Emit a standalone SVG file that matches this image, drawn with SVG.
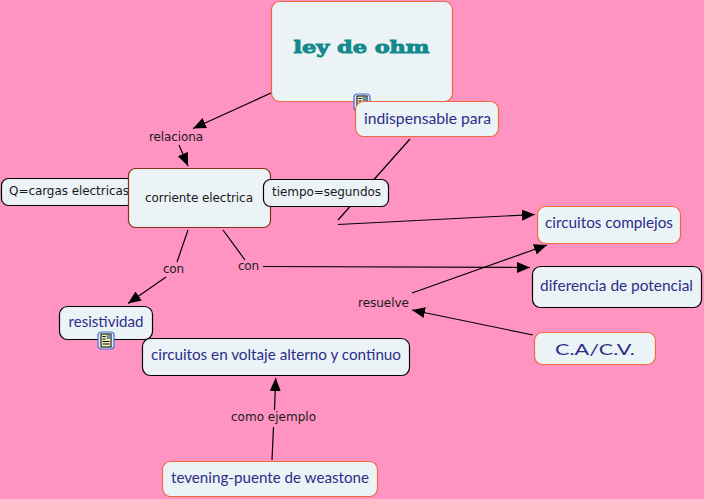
<svg xmlns="http://www.w3.org/2000/svg" width="704" height="499" viewBox="0 0 704 499">
<style>
.o{fill:#ecf3f6;stroke:#f0693c;stroke-width:1.2}
.k{fill:#ecf3f6;stroke:#000;stroke-width:1.2}
.v{font-family:"DejaVu Sans",sans-serif;font-size:12px;fill:#1a1a1a}
.h{font-family:"Lato","Open Sans",sans-serif;font-weight:400;font-size:15px;fill:#2a2e8a;text-anchor:middle}
.c line{stroke:#000;stroke-width:1.2}
.ic{fill:#f7f2b5;stroke:#000;stroke-width:1}
.fr{fill:#dbe7fb;stroke:#4a6fd0;stroke-width:1.200}
</style>
<defs>
<marker id="a" markerUnits="userSpaceOnUse" markerWidth="14" markerHeight="12" refX="13" refY="5.500" orient="auto"><path d="M0 0L13 5.500L0 11z" fill="#000"/></marker>
<g id="note"><rect class="fr" x="0.500" y="0.500" width="16" height="17" rx="3"/><rect class="ic" x="3.500" y="2.500" width="10" height="13"/><path d="M5 5h3M5 7.500h3M5 10h7M5 12.500h7" stroke="#000" stroke-width="1"/><rect x="9" y="3.500" width="4" height="4" fill="#6a8fb0"/></g>
</defs>
<rect width="704" height="499" fill="#ff94c3"/>
<g id="connectors" class="c">
<line x1="271" y1="93" x2="193" y2="128.500" marker-end="url(#a)"/>
<line x1="179" y1="145" x2="188" y2="166" marker-end="url(#a)"/>
<line x1="410" y1="139" x2="338" y2="220"/>
<line x1="338" y1="224.500" x2="535" y2="214.500" marker-end="url(#a)"/>
<line x1="188" y1="230" x2="177" y2="262"/>
<line x1="166" y1="277" x2="128" y2="303.500" marker-end="url(#a)"/>
<line x1="223" y1="230" x2="245" y2="260"/>
<line x1="263" y1="266.500" x2="530" y2="267.500" marker-end="url(#a)"/>
<line x1="412" y1="293" x2="547" y2="245" marker-end="url(#a)"/>
<line x1="533" y1="335" x2="412" y2="310" marker-end="url(#a)"/>
<line x1="272" y1="460" x2="273.500" y2="427"/>
<line x1="274.500" y1="410" x2="275.700" y2="378" marker-end="url(#a)"/>
</g>
<g id="n-ohm"><rect class="o" x="271.500" y="1.500" width="181" height="100" rx="8"/>
<text x="361.500" y="53" text-anchor="middle" textLength="136" lengthAdjust="spacingAndGlyphs" font-family="'DejaVu Serif',serif" font-weight="900" font-size="17" fill="#12898c" stroke="#12898c" stroke-width="0.900">ley de ohm</text></g>
<g id="n-icon1"><use href="#note" x="353.500" y="93.500"/></g>
<g id="n-indispensable"><rect class="o" x="355.500" y="101.500" width="143" height="35" rx="8"/><text class="h" x="427.500" y="124" textLength="127" lengthAdjust="spacingAndGlyphs">indispensable para</text></g>
<g id="n-relaciona"><text class="v" x="149" y="141" textLength="54">relaciona</text></g>
<g id="n-q"><rect class="k" x="1.500" y="178.500" width="132" height="27" rx="7"/><text class="v" x="9" y="195" textLength="120">Q=cargas electricas</text></g>
<g id="n-corriente"><rect x="128.500" y="168.500" width="142" height="59" rx="7" fill="#ecf3f6" stroke="#8b2d12" stroke-width="1.200"/><text class="v" x="145" y="202" textLength="108">corriente electrica</text></g>
<g id="n-tiempo"><rect class="k" x="263.500" y="179.500" width="125" height="27" rx="7"/><text class="v" x="272" y="196" textLength="109">tiempo=segundos</text></g>
<g id="n-con1"><text class="v" x="163" y="273" textLength="21">con</text></g>
<g id="n-con2"><text class="v" x="238" y="270" textLength="21">con</text></g>
<g id="n-complejos"><rect class="o" x="537.500" y="206.500" width="143" height="37" rx="8"/><text class="h" x="609" y="228" textLength="128" lengthAdjust="spacingAndGlyphs">circuitos complejos</text></g>
<g id="n-diferencia"><rect class="k" x="532.500" y="266.500" width="169" height="41" rx="8"/><text class="h" x="616.500" y="291" textLength="153" lengthAdjust="spacingAndGlyphs">diferencia de potencial</text></g>
<g id="n-resuelve"><text class="v" x="358" y="307" textLength="51">resuelve</text></g>
<g id="n-cacv"><rect class="o" x="534.500" y="332.500" width="121" height="32" rx="8"/><text class="h" x="595" y="355" font-size="21" textLength="80" lengthAdjust="spacingAndGlyphs">C.A/C.V.</text></g>
<g id="n-resistividad"><rect class="k" x="59.500" y="306.500" width="93" height="33" rx="8"/><text class="h" x="106" y="327" textLength="75" lengthAdjust="spacingAndGlyphs">resistividad</text></g>
<g id="n-circuitos"><rect class="k" x="142.500" y="338.500" width="267" height="37" rx="8"/><text class="h" x="276" y="360" textLength="250" lengthAdjust="spacingAndGlyphs">circuitos en voltaje alterno y continuo</text></g>
<g id="n-icon2"><use href="#note" x="97.500" y="331.500"/></g>
<g id="n-como"><text class="v" x="231" y="421" textLength="85">como ejemplo</text></g>
<g id="n-tevening"><rect class="o" x="162.500" y="461.500" width="215" height="35" rx="8"/><text class="h" x="270" y="483" textLength="198" lengthAdjust="spacingAndGlyphs">tevening-puente de weastone</text></g>
</svg>
